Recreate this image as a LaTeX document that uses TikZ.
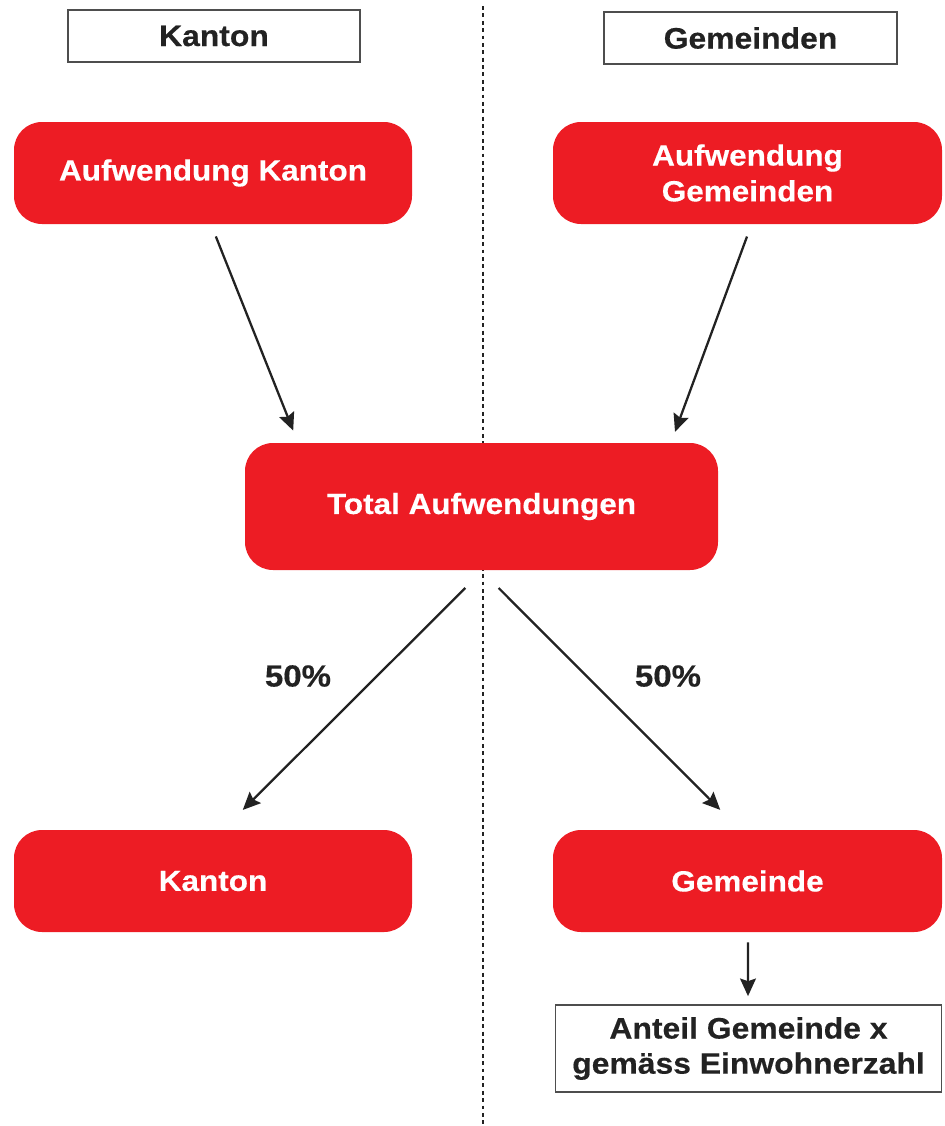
\documentclass[tikz,border=0pt]{standalone}
\usepackage{fontspec}
\setmainfont{Liberation Sans}
\newfontfamily\lbl{Liberation Sans}[FakeStretch=1.08,BoldFeatures={FakeBold=0.4}]
\usetikzlibrary{arrows.meta}
\definecolor{bred}{HTML}{ED1C24}
\definecolor{ink}{HTML}{222222}
\begin{document}
\begin{tikzpicture}[x=0.02cm,y=-0.02cm,
  redbox/.style={fill=bred,draw=none,rounded corners=0.56cm,align=center,text=white,
    font=\lbl\fontsize{16.6}{20.4}\selectfont\bfseries,inner sep=0pt},
  whitebox/.style={fill=white,draw=ink!80,line width=1.1pt,align=center,text=ink,
    font=\lbl\fontsize{16.8}{20}\selectfont\bfseries,inner sep=0pt},
  arr/.style={draw=ink,line width=1.3pt,-{Stealth[length=10pt,width=9pt,inset=1.5pt]}},
  pct/.style={text=ink,font=\lbl\fontsize{17.4}{20}\selectfont\bfseries},
  divider/.style={draw=ink,line width=1.1pt,dash pattern=on 2.2pt off 2pt}]
\useasboundingbox (0,0) rectangle (944,1126);
\coordinate (dtop) at (483,6);
\coordinate (dbot) at (483,1126);
\draw[divider] (dtop) -- (dbot);

\node[whitebox,minimum width=292*0.02cm,minimum height=52*0.02cm] (hk) at (214,36) {Kanton};
\node[whitebox,minimum width=293*0.02cm,minimum height=52*0.02cm] (hg) at (750.5,38) {Gemeinden};

\node[redbox,minimum width=398*0.02cm,minimum height=102*0.02cm] (ak) at (213,173) {Aufwendung Kanton};
\node[redbox,minimum width=389*0.02cm,minimum height=102*0.02cm] (ag) at (747.5,173) {Aufwendung\\Gemeinden};
\node[redbox,minimum width=473*0.02cm,minimum height=127*0.02cm] (tot) at (481.5,506.5) {Total Aufwendungen};
\node[redbox,minimum width=398*0.02cm,minimum height=102*0.02cm] (kan) at (213,881) {Kanton};
\node[redbox,minimum width=389*0.02cm,minimum height=102*0.02cm] (gem) at (747.5,881) {Gemeinde};
\node[whitebox,minimum width=386*0.02cm,minimum height=87*0.02cm] (ant) at (748.5,1048.5) {Anteil Gemeinde x\\gemäss Einwohnerzahl};

\node[pct] (p1) at (298,676) {50\%};
\node[pct] (p2) at (668,676) {50\%};

\draw[arr,shorten <=7.4pt,shorten >=7.4pt] ([xshift=-2*0.02cm]ak.south) -- ([xshift=-183.5*0.02cm]tot.north);
\draw[arr,shorten <=7.4pt,shorten >=6.6pt] ([xshift=4*0.02cm]ag.south) -- ([xshift=189.5*0.02cm]tot.north);
\draw[arr,shorten <=14.2pt,shorten >=15.9pt] ([xshift=1.5*0.02cm]tot.south) -- ([xshift=10*0.02cm]kan.north);
\draw[arr,shorten <=14.2pt,shorten >=15.9pt] ([xshift=-0.5*0.02cm]tot.south) -- ([xshift=-7.5*0.02cm]gem.north);
\draw[arr,shorten <=5.7pt,shorten >=4.5pt] ([xshift=0.5*0.02cm]gem.south) -- ([xshift=-0.5*0.02cm]ant.north);
\end{tikzpicture}
\end{document}
